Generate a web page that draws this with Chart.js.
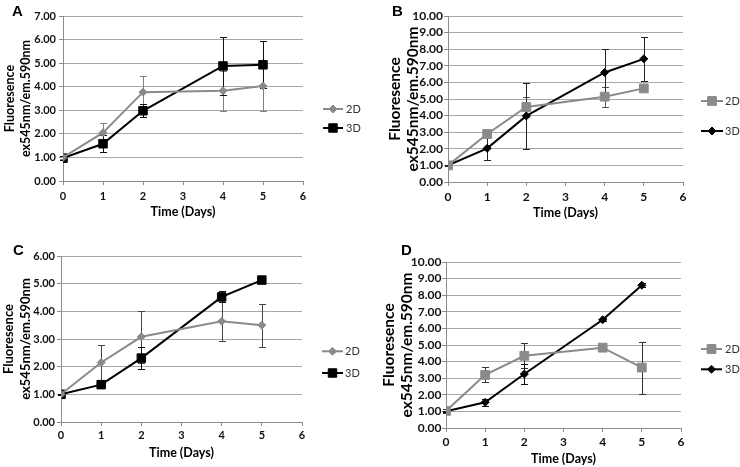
<!DOCTYPE html>
<html><head><meta charset="utf-8">
<script src="https://cdn.jsdelivr.net/npm/chart.js@4.4.0/dist/chart.umd.min.js"></script>
<style>
html,body{margin:0;padding:0;background:#fff;}
#wrap{position:relative;width:740px;height:467px;overflow:hidden;background:#fff;}
canvas.panel{position:absolute;}
.lbl{position:absolute;font:bold 15px "Liberation Sans",Arial,sans-serif;line-height:15px;color:#000;}
</style></head><body>
<div id="wrap">
  <canvas id="cA" class="panel" width="370" height="233" style="left:0px;top:0px"></canvas>
  <canvas id="cB" class="panel" width="370" height="233" style="left:370px;top:0px"></canvas>
  <canvas id="cC" class="panel" width="370" height="234" style="left:0px;top:233px"></canvas>
  <canvas id="cD" class="panel" width="370" height="234" style="left:370px;top:233px"></canvas>
  <div class="lbl" id="lA" style="left:12px;top:3px"></div>
  <div class="lbl" id="lB" style="left:392px;top:3px"></div>
  <div class="lbl" id="lC" style="left:13px;top:242px"></div>
  <div class="lbl" id="lD" style="left:401px;top:242px"></div>
</div>
<script>
// ---------- data ----------
const days = [0, 1, 2, 4, 5];
const seriesNames = ['2D', '3D'];
const panelLetters = ['A', 'B', 'C', 'D'];
const yTitleLines = ['Fluoresence', 'ex545nm/em.590nm'];
const xTitle = 'Time (Days)';
const xTickMin = 0, xTickMax = 6, xTickStep = 1;
const yMaxA = 7, yMaxB = 10, yMaxC = 6, yMaxD = 10;
const yTickStep = 1;

const a2D    = [1.00, 2.05, 3.77, 3.83, 4.03];
const a2DErr = [0.05, 0.42, 0.69, 0.85, 1.07];
const a3D    = [0.97, 1.58, 2.98, 4.88, 4.93];
const a3DErr = [0.10, 0.37, 0.27, 1.25, 1.00];

const b2D    = [1.00, 2.89, 4.52, 5.14, 5.64];
const b2DErr = [0.05, 0.15, 0.60, 0.60, 0.10];
const b3D    = [1.00, 2.03, 3.98, 6.60, 7.42];
const b3DErr = [0.05, 0.72, 1.98, 1.40, 1.34];

const c2D    = [1.00, 2.15, 3.08, 3.64, 3.50];
const c2DErr = [0.03, 0.62, 0.94, 0.70, 0.78];
const c3D    = [1.00, 1.35, 2.31, 4.52, 5.13];
const c3DErr = [0.03, 0.05, 0.40, 0.20, 0.05];

const d2D    = [1.03, 3.20, 4.35, 4.84, 3.64];
const d2DErr = [0.10, 0.45, 0.76, 0.20, 1.57];
const d3D    = [1.00, 1.55, 3.25, 6.52, 8.60];
const d3DErr = [0.05, 0.22, 0.62, 0.08, 0.12];

// ---------- styles ----------
const GRAY = '#8a8a8a';
const BLACK = '#000000';
const grayDiamond  = {color: GRAY,  shape: 'rectRot', r: 4};
const blackSquare  = {color: BLACK, shape: 'rect',    r: 6};
const graySquare   = {color: GRAY,  shape: 'rect',    r: 6.2};
const blackDiamond = {color: BLACK, shape: 'rectRot', r: 4};

function drawMarker(ctx, shape, r, x, y, color) {
  ctx.save();
  ctx.fillStyle = color; ctx.strokeStyle = color; ctx.lineWidth = 1;
  ctx.beginPath();
  if (shape === 'rect') {
    const s = Math.SQRT1_2 * r;
    ctx.rect(x - s, y - s, 2 * s, 2 * s);
  } else {
    ctx.moveTo(x - r, y); ctx.lineTo(x, y - r); ctx.lineTo(x + r, y); ctx.lineTo(x, y + r); ctx.closePath();
  }
  ctx.fill(); ctx.stroke();
  ctx.restore();
}

const errorBarPlugin = {
  id: 'errorBars',
  beforeDatasetsDraw(chart) {
    const ctx = chart.ctx, xs = chart.scales.x, ys = chart.scales.y;
    chart.data.datasets.forEach(ds => {
      if (!ds.errors) return;
      ctx.save();
      ctx.strokeStyle = ds.errorColor; ctx.lineWidth = 1;
      ds.data.forEach((p, j) => {
        const e = ds.errors[j];
        const x = Math.round(xs.getPixelForValue(p.x)) + 0.5;
        const y1 = Math.round(ys.getPixelForValue(p.y + e)) + 0.5;
        const y2 = Math.round(ys.getPixelForValue(p.y - e)) + 0.5;
        ctx.beginPath();
        ctx.moveTo(x, y1); ctx.lineTo(x, y2);
        ctx.moveTo(x - 3.5, y1); ctx.lineTo(x + 3.5, y1);
        ctx.moveTo(x - 3.5, y2); ctx.lineTo(x + 3.5, y2);
        ctx.stroke();
      });
      ctx.restore();
    });
  }
};

const sideLegendPlugin = {
  id: 'sideLegend',
  afterDraw(chart, args, opts) {
    const ctx = chart.ctx;
    chart.data.datasets.forEach((ds, i) => {
      const y = opts.ys[i];
      ctx.save();
      ctx.strokeStyle = ds.borderColor; ctx.lineWidth = ds.borderWidth;
      ctx.beginPath(); ctx.moveTo(opts.x1, y); ctx.lineTo(opts.x2, y); ctx.stroke();
      drawMarker(ctx, ds.pointStyle, ds.pointRadius, (opts.x1 + opts.x2) / 2, y, ds.borderColor);
      ctx.fillStyle = '#333';
      ctx.font = opts.fontSize + 'px Lato, "Open Sans", sans-serif';
      ctx.textBaseline = 'middle'; ctx.textAlign = 'left';
      ctx.fillText(ds.label, opts.tx, y);
      ctx.restore();
    });
  }
};

function makeDataset(label, vals, errs, style, errColor) {
  return {
    label: label,
    data: days.map((d, i) => ({x: d, y: vals[i]})),
    errors: errs,
    errorColor: errColor,
    showLine: true,
    borderColor: style.color,
    backgroundColor: style.color,
    borderWidth: 2,
    pointStyle: style.shape,
    pointRadius: style.r,
    pointHoverRadius: style.r,
    pointBorderWidth: 1,
    pointBackgroundColor: style.color,
    pointBorderColor: style.color,
    tension: 0
  };
}

function makeChart(id, yMax, datasets, L) {
  const ctx = document.getElementById(id);
  return new Chart(ctx, {
    type: 'scatter',
    data: {datasets: datasets},
    plugins: [errorBarPlugin, sideLegendPlugin],
    options: {
      responsive: false,
      animation: false,
      events: [],
      layout: {padding: {top: L.top, right: L.right, bottom: 0, left: 0}},
      plugins: {
        legend: {display: false},
        tooltip: {enabled: false},
        sideLegend: L.legend
      },
      scales: {
        x: {
          type: 'linear', min: xTickMin, max: xTickMax,
          afterFit: s => { s.height = L.xH; },
          ticks: {stepSize: xTickStep, color: '#111', padding: L.xTickPad, autoSkip: false,
                  font: {size: L.tick, weight: 'bold'}, maxRotation: 0,
                  callback: v => String(v)},
          grid: {display: true, drawOnChartArea: false, drawTicks: true, tickLength: 4, color: '#8c8c8c', lineWidth: 1},
          border: {display: true, color: '#8c8c8c', width: 1},
          title: {display: true, text: xTitle, color: '#000',
                  font: {size: 12.5, weight: 'bold'}, padding: {top: 0, bottom: L.xTitlePad}}
        },
        y: {
          type: 'linear', min: 0, max: yMax,
          afterFit: s => { s.width = L.yW; },
          ticks: {stepSize: yTickStep, color: '#111', padding: L.yTickPad, autoSkip: false,
                  font: {size: L.tick, weight: 'bold'},
                  callback: v => Number(v).toFixed(2)},
          grid: {display: true, drawOnChartArea: true, drawTicks: true, tickLength: 4, color: '#a8a8a8', tickColor: '#8c8c8c', lineWidth: 1},
          border: {display: true, color: '#8c8c8c', width: 1},
          title: {display: true, text: yTitleLines, color: '#000',
                  font: {size: L.yTitleSize, weight: 'bold', lineHeight: L.yTitleLH / L.yTitleSize},
                  padding: {top: L.yTitlePad, bottom: 0}}
        }
      }
    }
  });
}

function build() {
  Chart.defaults.font.family = 'Lato, "Open Sans", sans-serif';
  ['lA','lB','lC','lD'].forEach((id, i) => { document.getElementById(id).textContent = panelLetters[i]; });

  makeChart('cA', yMaxA, [
    makeDataset(seriesNames[0], a2D, a2DErr, grayDiamond, '#808080'),
    makeDataset(seriesNames[1], a3D, a3DErr, blackSquare, '#111')
  ], {top: 16, right: 67, yW: 63, xH: 52, xTitlePad: 13.5, yTitlePad: 1.25, yTitleLH: 16.5, yTitleSize: 12.5,
      tick: 11, yTickPad: 3, xTickPad: 4.4,
      legend: {x1: 323, x2: 343, tx: 346, ys: [109, 128], fontSize: 11}});

  makeChart('cB', yMaxB, [
    makeDataset(seriesNames[0], b2D, b2DErr, graySquare, '#555'),
    makeDataset(seriesNames[1], b3D, b3DErr, blackDiamond, '#222')
  ], {top: 16, right: 57, yW: 78, xH: 51, xTitlePad: 12.2, yTitlePad: 16.3, yTitleLH: 18, yTitleSize: 15.5,
      tick: 12, yTickPad: 1, xTickPad: 3.5,
      legend: {x1: 331, x2: 353, tx: 355, ys: [101, 131], fontSize: 11}});

  makeChart('cC', yMaxC, [
    makeDataset(seriesNames[0], c2D, c2DErr, grayDiamond, '#444'),
    makeDataset(seriesNames[1], c3D, c3DErr, blackSquare, '#111')
  ], {top: 23, right: 68, yW: 61, xH: 45, xTitlePad: 6.2, yTitlePad: 0.5, yTitleLH: 17, yTitleSize: 13,
      tick: 11, yTickPad: 2, xTickPad: 3.1,
      legend: {x1: 322, x2: 343, tx: 345, ys: [118.3, 140], fontSize: 11}});

  makeChart('cD', yMaxD, [
    makeDataset(seriesNames[0], d2D, d2DErr, graySquare, '#333'),
    makeDataset(seriesNames[1], d3D, d3DErr, blackDiamond, '#111')
  ], {top: 29, right: 59, yW: 76, xH: 39, xTitlePad: 0.2, yTitlePad: 10, yTitleLH: 18, yTitleSize: 15.5,
      tick: 12, yTickPad: 0.5, xTickPad: 2.5,
      legend: {x1: 331, x2: 352, tx: 355, ys: [116, 136.3], fontSize: 11}});
}

Promise.all([
  document.fonts.load('bold 12px Lato'),
  document.fonts.load('12px Lato'),
  document.fonts.load('bold 15px "Liberation Sans"')
]).then(build, build);
</script>
</body></html>
